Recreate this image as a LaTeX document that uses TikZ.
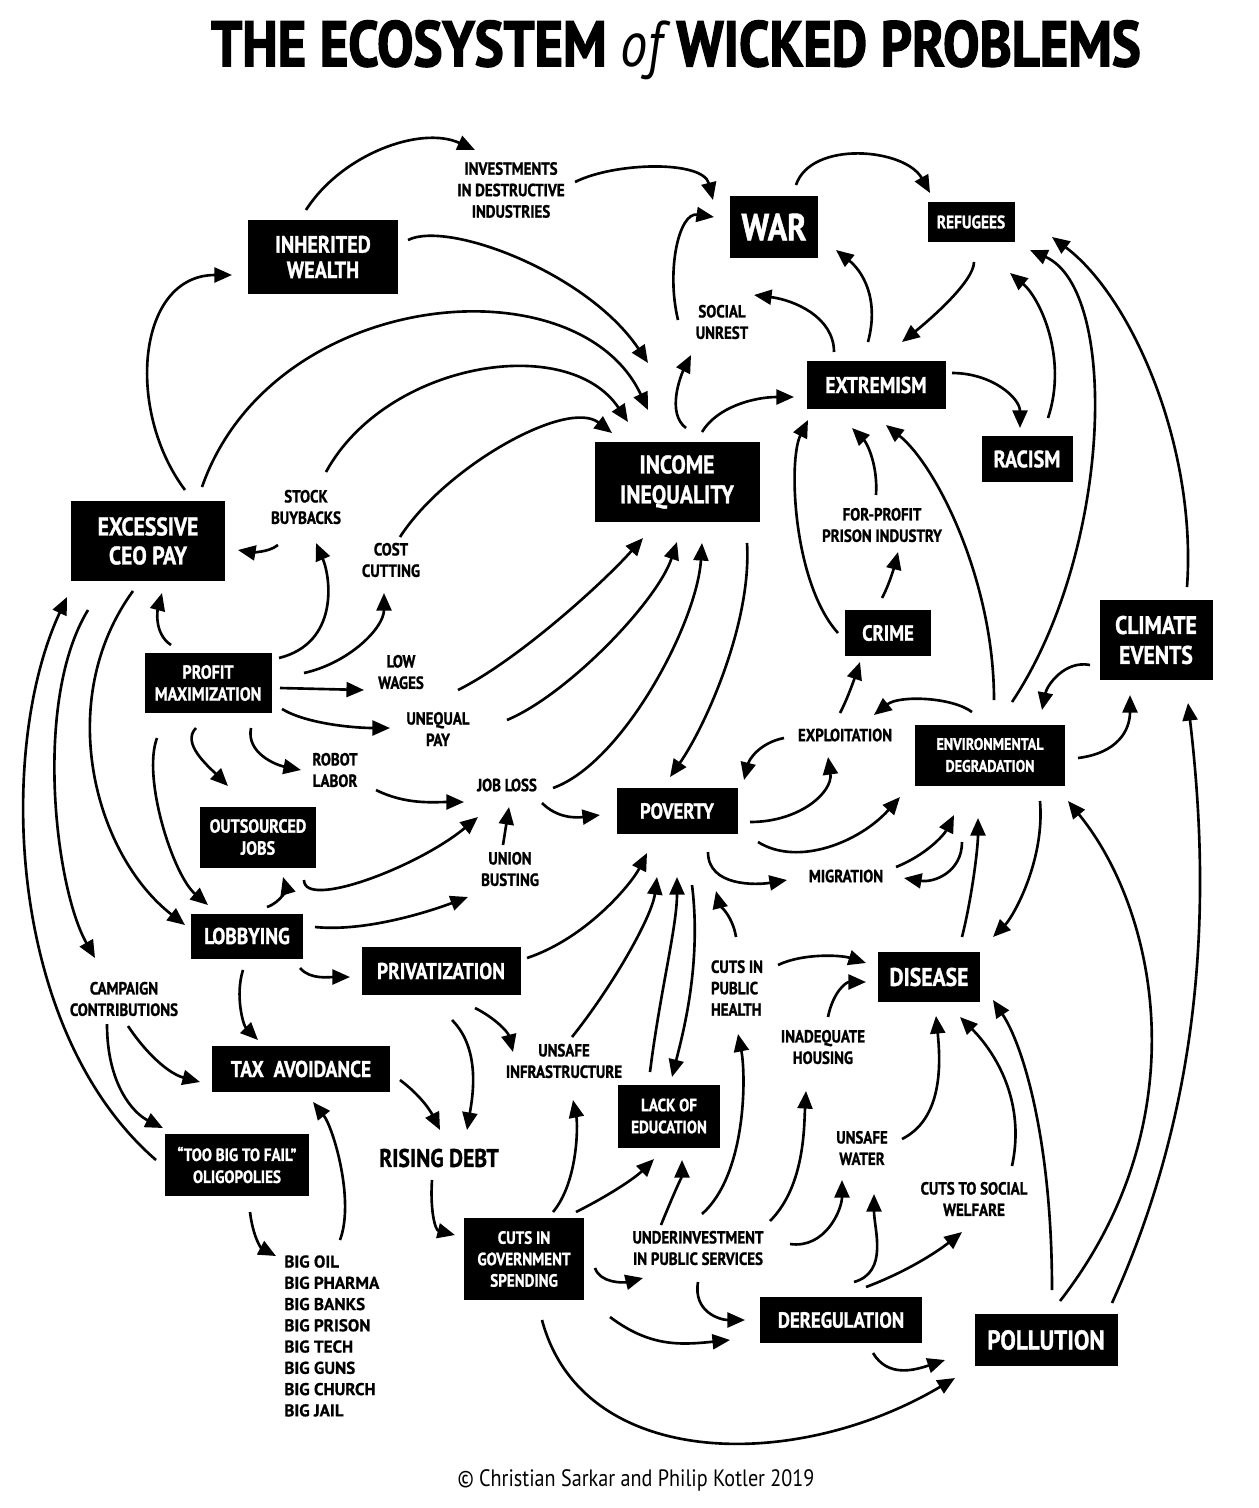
\documentclass[tikz,border=0pt]{standalone}
\usepackage{fontspec}
\newfontfamily\condfont{PT Sans}[FakeStretch=0.85,BoldFeatures={FakeBold=1.2}]
\newfontfamily\titlefont{PT Sans}[FakeStretch=0.85,BoldFeatures={FakeBold=2.2}]
\newfontfamily\plainfont{PT Sans}[BoldFeatures={FakeBold=0.8}]
\usetikzlibrary{arrows.meta}

\begin{document}
\begin{tikzpicture}[x=0.02cm,y=-0.02cm,
                box/.style 2 args={fill=black,text=white,align=center,inner sep=0pt,minimum width=#1*0.02cm,minimum height=#2*0.02cm},
                fnt/.style 2 args={font=\condfont\bfseries\fontsize{#1}{#2}\selectfont},
                lbl/.style={align=center,inner sep=1pt,fnt={10}{12.2}},
                conn/.style={line width=1.5pt,-{Triangle[length=10pt,width=8.5pt]}}]
                \useasboundingbox (0,0) rectangle (1258,1508);
                \node[font=\titlefont\bfseries\fontsize{36.5}{40}\selectfont] (title) at (676,50) {THE ECOSYSTEM {\itshape\mdseries of} WICKED PROBLEMS};
                \node[font=\condfont\fontsize{13.5}{15}\selectfont] (credit) at (636,1480) {© Christian Sarkar and Philip Kotler 2019};
                \node[box={150}{74},fnt={13.5}{14.5}] (iw) at (323,257) {INHERITED\\WEALTH};
                \node[box={88}{62},fnt={21.5}{24}] (war) at (774,227) {WAR};
                \node[box={87}{40},fnt={10.3}{12}] (ref) at (971,222) {REFUGEES};
                \node[box={139}{48},fnt={13}{15}] (ext) at (876,385) {EXTREMISM};
                \node[box={91}{46},fnt={13.5}{15}] (rac) at (1027,459) {RACISM};
                \node[box={165}{80},fnt={14.5}{17}] (ii) at (677,482) {INCOME\\INEQUALITY};
                \node[box={154}{80},fnt={14.5}{16.5}] (ceo) at (148,541) {EXCESSIVE\\CEO PAY};
                \node[box={127}{60},fnt={10.8}{12.5}] (pm) at (208,683) {PROFIT\\MAXIMIZATION};
                \node[box={86}{46},fnt={12.5}{14}] (crime) at (888,633) {CRIME};
                \node[box={113}{80},fnt={14.5}{17}] (clim) at (1156,640) {CLIMATE\\EVENTS};
                \node[box={150}{61},fnt={9.5}{12.5}] (env) at (990,755) {ENVIRONMENTAL\\DEGRADATION};
                \node[box={121}{46},fnt={12.5}{14}] (pov) at (677,811) {POVERTY};
                \node[box={116}{61},fnt={10.8}{12.5}] (out) at (258,837) {OUTSOURCED\\JOBS};
                \node[box={112}{45},fnt={13}{15}] (lob) at (247,936) {LOBBYING};
                \node[box={159}{48},fnt={13}{15}] (priv) at (441,971) {PRIVATIZATION};
                \node[box={102}{50},fnt={14.5}{16}] (dis) at (929,977) {DISEASE};
                \node[box={178}{46},fnt={13}{15}] (tax) at (301,1069) {TAX\ \ AVOIDANCE};
                \node[box={102}{63},fnt={10.1}{12.5}] (edu) at (669,1116) {LACK OF\\EDUCATION};
                \node[box={144}{62},fnt={10.1}{12.5}] (tbtf) at (237,1165) {“TOO BIG TO FAIL”\\OLIGOPOLIES};
                \node[box={120}{82},fnt={10.1}{12.2}] (cgs) at (524,1259) {CUTS IN\\GOVERNMENT\\SPENDING};
                \node[box={162}{46},fnt={12.5}{14}] (dereg) at (841,1320) {DEREGULATION};
                \node[box={143}{52},fnt={15.5}{17}] (poll) at (1046,1340) {POLLUTION};
                % plain labels
                \node[lbl] (inv) at (511,190) {INVESTMENTS\\IN DESTRUCTIVE\\INDUSTRIES};
                \node[lbl] (unrest) at (722,322) {SOCIAL\\UNREST};
                \node[lbl] (buy) at (306,507) {STOCK\\BUYBACKS};
                \node[lbl] (cost) at (391,560) {COST\\CUTTING};
                \node[lbl] (prison) at (882,525) {FOR-PROFIT\\PRISON INDUSTRY};
                \node[lbl] (low) at (401,672) {LOW\\WAGES};
                \node[lbl] (uneq) at (438,729) {UNEQUAL\\PAY};
                \node[lbl] (robot) at (335,770) {ROBOT\\LABOR};
                \node[lbl] (job) at (507,785) {JOB LOSS};
                \node[lbl] (expl) at (845,735) {EXPLOITATION};
                \node[lbl] (union) at (510,869) {UNION\\BUSTING};
                \node[lbl] (mig) at (846,876) {MIGRATION};
                \node[lbl] (camp) at (124,999) {CAMPAIGN\\CONTRIBUTIONS};
                \node[lbl,align=left] (health) at (737,988) {CUTS IN\\PUBLIC\\HEALTH};
                \node[lbl] (house) at (823,1047) {INADEQUATE\\HOUSING};
                \node[lbl] (infra) at (564,1061) {UNSAFE\\INFRASTRUCTURE};
                \node[lbl,fnt={14.5}{16}] (debt) at (439,1158) {RISING DEBT};
                \node[lbl] (water) at (862,1148) {UNSAFE\\WATER};
                \node[lbl] (welf) at (974,1199) {CUTS TO SOCIAL\\WELFARE};
                \node[lbl] (under) at (698,1248) {UNDERINVESTMENT\\IN PUBLIC SERVICES};
                \node[align=left,anchor=north west,inner sep=0pt,font=\plainfont\bfseries\fontsize{9.7}{12.1}\selectfont] (big) at (284,1255) {BIG OIL\\BIG PHARMA\\BIG BANKS\\BIG PRISON\\BIG TECH\\BIG GUNS\\BIG CHURCH\\BIG JAIL};
                % top
                \draw[conn] ([shift={(-17,-47)}]iw.center) .. controls +(35,-55) and +(-55,-25) .. ([shift={(-36,-40)}]inv.center);
                \draw[conn] ([shift={(64,-8)}]inv.center) .. controls +(40,-20) and +(-10,-40) .. ([shift={(-61,-27)}]war.center);
                \draw[conn] ([shift={(85,-17)}]iw.center) .. controls +(40,-20) and +(-60,-90) .. ([shift={(-29,-119)}]ii.center);
                \draw[conn] ([shift={(37,-51)}]ceo.center) .. controls +(-60,-80) and +(-95,0) .. ([shift={(-91,18)}]iw.center);
                \draw[conn] ([shift={(54,-54)}]ceo.center) .. controls +(70,-200) and +(-70,-150) .. ([shift={(-29,-72)}]ii.center);
                \draw[conn] ([shift={(20,-35)}]buy.center) .. controls +(60,-110) and +(-60,-90) .. ([shift={(-49,-60)}]ii.center);
                \draw[conn] ([shift={(9,-23)}]cost.center) .. controls +(45,-70) and +(-45,-35) .. ([shift={(-65,-49)}]ii.center);
                \draw[conn] ([shift={(-28,38)}]buy.center) .. controls +(-10,8) and +(12,2) .. ([shift={(90,9)}]ceo.center);
                \draw[conn] ([shift={(22,-42)}]war.center) .. controls +(15,-45) and +(-25,-45) .. ([shift={(-41,-29)}]ref.center);
                \draw[conn] ([shift={(-44,-2)}]unrest.center) .. controls +(-12,-50) and +(-35,-5) .. ([shift={(-60,-10)}]war.center);
                \draw[conn] ([shift={(-42,-33)}]ext.center) .. controls +(0,-35) and +(40,5) .. ([shift={(32,-27)}]unrest.center);
                \draw[conn] ([shift={(-8,-43)}]ext.center) .. controls +(12,-45) and +(25,20) .. ([shift={(62,23)}]war.center);
                \draw[conn] ([shift={(3,40)}]ref.center) .. controls +(0,20) and +(25,-20) .. ([shift={(26,-43)}]ext.center);
                \draw[conn] ([shift={(21,-41)}]rac.center) .. controls +(20,-60) and +(30,25) .. ([shift={(39,51)}]ref.center);
                \draw[conn] ([shift={(76,-12)}]ext.center) .. controls +(40,0) and +(0,-30) .. ([shift={(-7,-31)}]rac.center);
                \draw[conn] ([shift={(25,-50)}]ii.center) .. controls +(15,-25) and +(-40,0) .. ([shift={(-82,12)}]ext.center);
                \draw[conn] ([shift={(9,-54)}]ii.center) .. controls +(-20,-15) and +(-10,20) .. ([shift={(-31,33)}]unrest.center);
                \draw[conn] ([shift={(22,-53)}]env.center) .. controls +(100,-150) and +(90,40) .. ([shift={(59,28)}]ref.center);
                \draw[conn] ([shift={(31,-53)}]clim.center) .. controls +(10,-140) and +(80,60) .. ([shift={(81,15)}]ref.center);
                \draw[conn] ([shift={(-50,0)}]crime.center) .. controls +(-45,-50) and +(-20,40) .. ([shift={(-68,35)}]ext.center);
                \draw[conn] ([shift={(-6,-30)}]prison.center) .. controls +(2,-30) and +(15,15) .. ([shift={(-24,43)}]ext.center);
                \draw[conn] ([shift={(4,-55)}]env.center) .. controls +(0,-120) and +(50,40) .. ([shift={(10,40)}]ext.center);
                \draw[conn] ([shift={(-6,-35)}]crime.center) .. controls +(8,-15) and +(-3,12) .. ([shift={(16,27)}]prison.center);
                % profit maximization
                \draw[conn] ([shift={(-37,-38)}]pm.center) .. controls +(-18,-12) and +(-4,15) .. ([shift={(14,52)}]ceo.center);
                \draw[conn] ([shift={(71,-25)}]pm.center) .. controls +(60,-15) and +(15,35) .. ([shift={(10,36)}]buy.center);
                \draw[conn] ([shift={(96,-10)}]pm.center) .. controls +(45,-10) and +(0,35) .. ([shift={(-7,33)}]cost.center);
                \draw[conn] ([shift={(72,5)}]pm.center) -- ([shift={(-37,18)}]low.center);
                \draw[conn] ([shift={(74,26)}]pm.center) .. controls +(25,15) and +(-35,0) .. ([shift={(-48,-1)}]uneq.center);
                \draw[conn] ([shift={(57,18)}]low.center) .. controls +(60,-30) and +(-40,45) .. ([shift={(-34,56)}]ii.center);
                \draw[conn] ([shift={(69,-9)}]uneq.center) .. controls +(60,-25) and +(-20,60) .. ([shift={(0,60)}]ii.center);
                \draw[conn] ([shift={(46,3)}]job.center) .. controls +(70,-25) and +(-5,80) .. ([shift={(25,61)}]ii.center);
                \draw[conn] ([shift={(70,61)}]ii.center) .. controls +(5,80) and +(35,-50) .. ([shift={(-7,-34)}]pov.center);
                \draw[conn] ([shift={(35,18)}]job.center) .. controls +(15,15) and +(-25,3) .. ([shift={(-77,4)}]pov.center);
                \draw[conn] ([shift={(-51,55)}]pm.center) .. controls +(-15,40) and +(-35,-30) .. ([shift={(-39,-31)}]lob.center);
                \draw[conn] ([shift={(-12,45)}]pm.center) .. controls +(-15,15) and +(-20,-20) .. ([shift={(-30,-51)}]out.center);
                \draw[conn] ([shift={(43,45)}]pm.center) .. controls +(-5,25) and +(-25,-5) .. ([shift={(-34,0)}]robot.center);
                \draw[conn] ([shift={(41,20)}]robot.center) .. controls +(30,15) and +(-30,0) .. ([shift={(-43,17)}]job.center);
                \draw[conn] ([shift={(-7,-24)}]union.center) -- ([shift={(2,22)}]job.center);
                \draw[conn] ([shift={(46,43)}]out.center) .. controls +(0,30) and +(-60,50) .. ([shift={(-29,32)}]job.center);
                % poverty and environment
                \draw[conn] ([shift={(-5,-22)}]expl.center) .. controls +(8,-15) and +(-4,12) .. ([shift={(-28,29)}]crime.center);
                \draw[conn] ([shift={(-18,-43)}]env.center) .. controls +(-20,-15) and +(25,-20) .. ([shift={(29,-20)}]expl.center);
                \draw[conn] ([shift={(-61,3)}]expl.center) .. controls +(-25,5) and +(5,-20) .. ([shift={(67,-31)}]pov.center);
                \draw[conn] ([shift={(73,11)}]pov.center) .. controls +(50,0) and +(5,35) .. ([shift={(-17,22)}]expl.center);
                \draw[conn] ([shift={(81,31)}]pov.center) .. controls +(40,25) and +(-40,45) .. ([shift={(-90,42)}]env.center);
                \draw[conn] ([shift={(50,-9)}]mig.center) .. controls +(30,-12) and +(-10,20) .. ([shift={(-36,60)}]env.center);
                \draw[conn] ([shift={(-28,87)}]env.center) .. controls +(0,30) and +(30,5) .. ([shift={(58,2)}]mig.center);
                \draw[conn] ([shift={(31,41)}]pov.center) .. controls +(0,35) and +(-30,5) .. ([shift={(-59,4)}]mig.center);
                \draw[conn] ([shift={(-66,25)}]clim.center) .. controls +(-25,-5) and +(5,-25) .. ([shift={(52,-45)}]env.center);
                \draw[conn] ([shift={(88,3)}]env.center) .. controls +(40,-5) and +(0,35) .. ([shift={(-26,55)}]clim.center);
                \draw[conn] ([shift={(66,-37)}]poll.center) .. controls +(100,-220) and +(20,170) .. ([shift={(32,63)}]clim.center);
                \draw[conn] ([shift={(14,-39)}]poll.center) .. controls +(140,-180) and +(90,110) .. ([shift={(78,46)}]env.center);
                \draw[conn] ([shift={(6,-50)}]poll.center) .. controls +(0,-150) and +(30,45) .. ([shift={(64,23)}]dis.center);
                \draw[conn] ([shift={(33,-40)}]dis.center) .. controls +(10,-40) and +(0,30) .. ([shift={(-12,63)}]env.center);
                \draw[conn] ([shift={(50,46)}]env.center) .. controls +(5,60) and +(20,-20) .. ([shift={(64,-40)}]dis.center);
                % disease
                \draw[conn] ([shift={(41,-23)}]health.center) .. controls +(25,-12) and +(-25,-8) .. ([shift={(-63,-14)}]dis.center);
                \draw[conn] ([shift={(5,-30)}]house.center) .. controls +(5,-25) and +(-20,0) .. ([shift={(-63,5)}]dis.center);
                \draw[conn] ([shift={(-1,-51)}]health.center) .. controls +(-3,-20) and +(3,12) .. ([shift={(39,80)}]pov.center);
                \draw[conn] ([shift={(40,-9)}]water.center) .. controls +(40,-20) and +(5,50) .. ([shift={(7,39)}]dis.center);
                \draw[conn] ([shift={(38,-33)}]welf.center) .. controls +(15,-70) and +(30,30) .. ([shift={(31,40)}]dis.center);
                \draw[conn] ([shift={(4,-34)}]under.center) .. controls +(45,-40) and +(8,40) .. ([shift={(1,46)}]health.center);
                \draw[conn] ([shift={(72,-27)}]under.center) .. controls +(35,-35) and +(-2,35) .. ([shift={(-17,44)}]house.center);
                \draw[conn] ([shift={(92,-4)}]under.center) .. controls +(35,5) and +(0,30) .. ([shift={(-20,32)}]water.center);
                \draw[conn] ([shift={(-37,-23)}]under.center) .. controls +(8,-20) and +(0,15) .. ([shift={(13,44)}]edu.center);
                \draw[conn] ([shift={(52,-47)}]cgs.center) .. controls +(30,-15) and +(-20,20) .. ([shift={(-15,43)}]edu.center);
                \draw[conn] ([shift={(71,9)}]cgs.center) .. controls +(5,15) and +(-20,5) .. ([shift={(-55,30)}]under.center);
                \draw[conn] ([shift={(0,34)}]under.center) .. controls +(-5,30) and +(-25,0) .. ([shift={(-96,0)}]dereg.center);
                \draw[conn] ([shift={(86,58)}]cgs.center) .. controls +(40,30) and +(-50,5) .. ([shift={(-111,20)}]dereg.center);
                \draw[conn] ([shift={(18,61)}]cgs.center) .. controls +(40,150) and +(-160,95) .. ([shift={(-91,38)}]poll.center);
                \draw[conn] ([shift={(13,-38)}]dereg.center) .. controls +(35,-10) and +(0,35) .. ([shift={(12,46)}]water.center);
                \draw[conn] ([shift={(25,-33)}]dereg.center) .. controls +(40,-15) and +(-25,20) .. ([shift={(-12,33)}]welf.center);
                \draw[conn] ([shift={(32,33)}]dereg.center) .. controls +(15,25) and +(-30,10) .. ([shift={(-101,20)}]poll.center);
                % left side
                \draw[conn] ([shift={(-81,-5)}]tbtf.center) .. controls +(-150,-130) and +(-70,150) .. ([shift={(-81,56)}]ceo.center);
                \draw[conn] ([shift={(-60,69)}]ceo.center) .. controls +(-55,90) and +(-40,-70) .. ([shift={(-29,-41)}]camp.center);
                \draw[conn] ([shift={(-15,50)}]ceo.center) .. controls +(-80,110) and +(-90,-70) .. ([shift={(-62,-11)}]lob.center);
                \draw[conn] ([shift={(20,-29)}]lob.center) .. controls +(15,-5) and +(3,10) .. ([shift={(25,40)}]out.center);
                \draw[conn] ([shift={(68,-9)}]lob.center) .. controls +(50,5) and +(-40,15) .. ([shift={(-42,28)}]union.center);
                \draw[conn] ([shift={(53,32)}]lob.center) .. controls +(10,12) and +(-20,0) .. ([shift={(-91,6)}]priv.center);
                \draw[conn] ([shift={(-4,34)}]lob.center) .. controls +(-8,25) and +(-15,-15) .. ([shift={(-43,-29)}]tax.center);
                \draw[conn] ([shift={(4,27)}]camp.center) .. controls +(20,30) and +(-30,-8) .. ([shift={(-101,13)}]tax.center);
                \draw[conn] ([shift={(-17,25)}]camp.center) .. controls +(0,60) and +(-30,-15) .. ([shift={(-74,-37)}]tbtf.center);
                \draw[conn] ([shift={(13,47)}]tbtf.center) .. controls +(3,25) and +(-15,-8) .. ([shift={(-8,1)}]big.north west);
                \draw[conn] ([shift={(56,-15)}]big.north west) .. controls +(15,-40) and +(20,25) .. ([shift={(12,33)}]tax.center);
                \draw[conn] ([shift={(99,11)}]tax.center) .. controls +(20,15) and +(-10,-20) .. ([shift={(1,-28)}]debt.center);
                \draw[conn] ([shift={(11,49)}]priv.center) .. controls +(30,30) and +(5,-30) .. ([shift={(28,-28)}]debt.center);
                \draw[conn] ([shift={(34,37)}]priv.center) .. controls +(20,10) and +(-5,-20) .. ([shift={(-51,-9)}]infra.center);
                \draw[conn] ([shift={(86,-13)}]priv.center) .. controls +(60,-20) and +(-15,30) .. ([shift={(-30,42)}]pov.center);
                \draw[conn] ([shift={(8,-24)}]infra.center) .. controls +(40,-50) and +(-5,40) .. ([shift={(-20,66)}]pov.center);
                \draw[conn] ([shift={(-19,-44)}]edu.center) .. controls +(10,-80) and +(0,50) .. ([shift={(0,66)}]pov.center);
                \draw[conn] ([shift={(15,74)}]pov.center) .. controls +(10,80) and +(10,-40) .. ([shift={(3,-39)}]edu.center);
                \draw[conn] ([shift={(-7,22)}]debt.center) .. controls +(-2,30) and +(-20,-5) .. ([shift={(-69,-24)}]cgs.center);
                \draw[conn] ([shift={(29,-47)}]cgs.center) .. controls +(25,-30) and +(5,25) .. ([shift={(9,39)}]infra.center);
\end{tikzpicture}
\end{document}
